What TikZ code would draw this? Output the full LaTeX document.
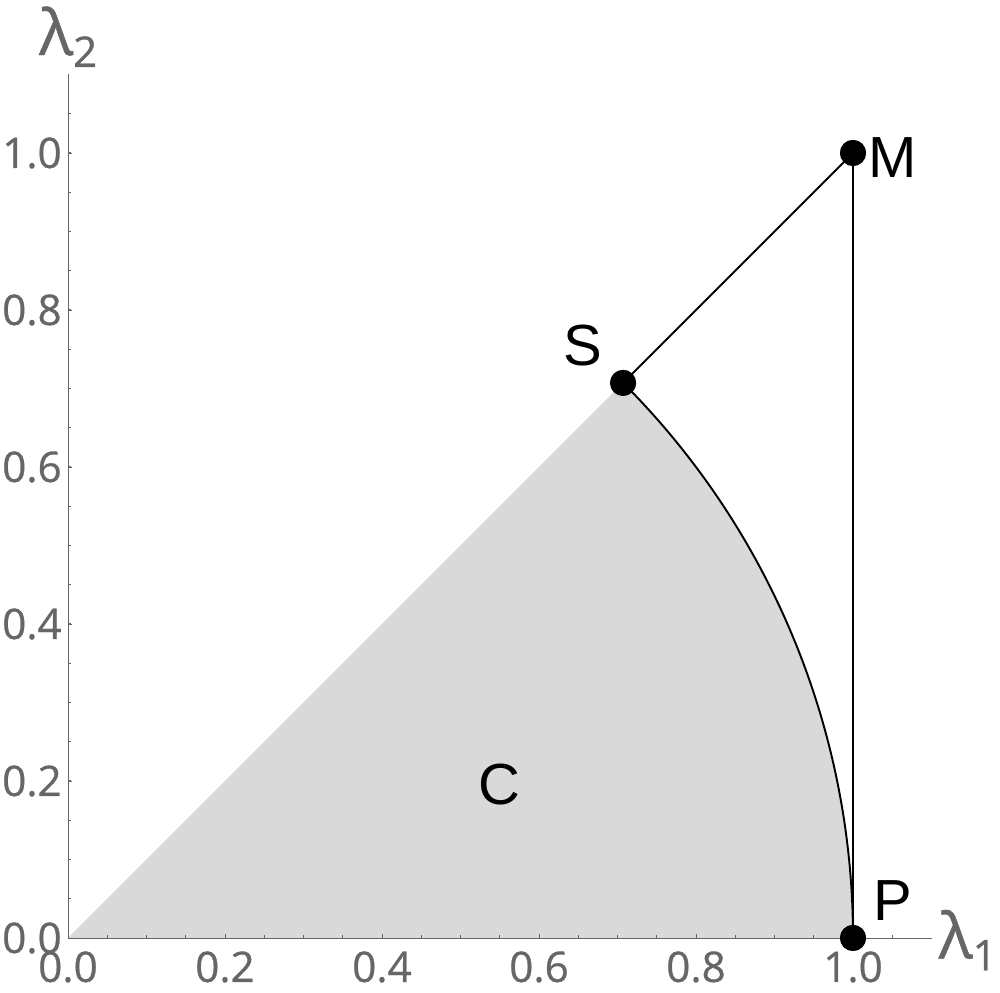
\documentclass[tikz,border=0pt]{standalone}
\usepackage{fontspec}
\setmainfont{Liberation Sans}
\newfontfamily\tickfont{Open Sans}[FakeBold=0.7]
\begin{document}
\begin{tikzpicture}[x=15.7cm,y=15.7cm,
  axisline/.style={draw=axisgray,line width=0.55pt},
  ticklbl/.style={text=axisgray,inner sep=0pt,font=\tickfont\fontsize{24}{24}\selectfont},
  ptlabel/.style={text=black,inner sep=0pt,font=\fontsize{33}{33}\selectfont},
  dotnode/.style={circle,fill=black,inner sep=0pt,minimum size=0.52cm},
  curveline/.style={draw=black,line width=1.1pt}]
\definecolor{axisgray}{HTML}{666666}
\definecolor{regiongray}{HTML}{D9D9D9}
\useasboundingbox (-0.08662,-0.07006) rectangle (1.18726,1.19490);
% region C
\fill[regiongray] (0,0) -- ({cos(45)},{sin(45)}) arc[start angle=45,end angle=0,radius=1] -- cycle;
% axes
\draw[axisline] (0,0) -- (1.1,0);
\draw[axisline] (0,0) -- (0,1.1);
\foreach \t in {0.05,0.1,...,1.06}{
  \draw[axisline] (\t,0) -- (\t,0.0032);
  \draw[axisline] (0,\t) -- (0.0032,\t);
}
\foreach \t in {0.2,0.4,...,1.01}{
  \draw[axisline] (\t,0) -- (\t,0.0045);
  \draw[axisline] (0,\t) -- (0.0045,\t);
}
\foreach \t/\l in {0/0.0,0.2/0.2,0.4/0.4,0.6/0.6,0.8/0.8,1/1.0}{
  \node[ticklbl,anchor=base] (xt\l) at (\t,-0.0560) {\l};
  \node[ticklbl,anchor=east] (yt\l) at (-0.0076,\t) {\l};
}
% axis labels
\node[ticklbl,anchor=base west] (lam2) at (-0.0370,1.1248) {\fontsize{36}{36}\selectfont λ\raisebox{-0.35ex}{\fontsize{24}{24}\selectfont 2}};
\node[ticklbl,anchor=base west] (lam1) at (1.1090,-0.0260) {\fontsize{36}{36}\selectfont λ\raisebox{-0.35ex}{\fontsize{24}{24}\selectfont 1}};
% points
\node[dotnode] (S) at ({cos(45)},{sin(45)}) {};
\node[dotnode] (M) at (1,1) {};
\node[dotnode] (P) at (1,0) {};
\draw[curveline] (S.center) -- (M.center);
\draw[curveline] (M.center) -- (P.center);
\draw[curveline] (S.center) arc[start angle=45,end angle=0,radius=1];
\node[dotnode] at (S) {};
\node[dotnode] at (M) {};
\node[dotnode] at (P) {};
% labels
\node[ptlabel] (Mlbl) at (1.0510,0.9940) {M};
\node[ptlabel] (Slbl) at (0.6560,0.7550) {S};
\node[ptlabel] (Plbl) at (1.0510,0.0480) {P};
\node[ptlabel] (Clbl) at (0.5500,0.1950) {C};
\end{tikzpicture}
\end{document}
